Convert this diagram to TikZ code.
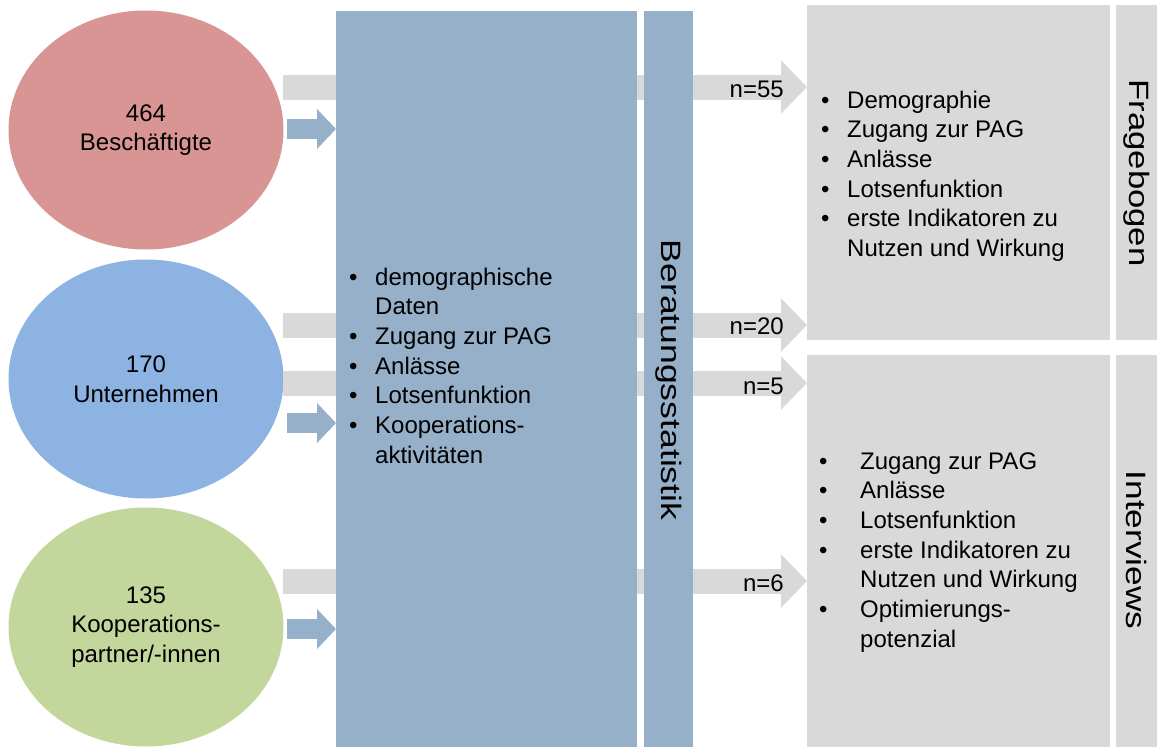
\documentclass[tikz,border=0pt]{standalone}
\usepackage{fontspec}
\setmainfont{Liberation Sans}
\usetikzlibrary{arrows.meta}
\usetikzlibrary{shapes.geometric}
\usetikzlibrary{positioning}

\definecolor{rosefill}{HTML}{D99594}
\definecolor{skyfill}{HTML}{8DB3E2}
\definecolor{leaffill}{HTML}{C3D69B}
\definecolor{statblue}{HTML}{96B0CA}
\definecolor{boxgray}{HTML}{D9D9D9}

\tikzset{
  group/.style={ellipse,minimum width=275pt,minimum height=239pt,inner sep=0pt,align=center},
  panel/.style={anchor=north west,inner sep=0pt},
  flowgray/.style={draw=boxgray,line width=25pt,-{Triangle[length=26pt,width=52pt]}},
  flowblue/.style={draw=statblue,line width=20pt,-{Triangle[length=19pt,width=39pt]}},
  nlabel/.style={anchor=east,inner sep=0pt,xshift=-23pt},
  sidetitle/.style={rotate=-90,inner sep=0pt,font=\fontsize{28}{30}\selectfont},
  bulletlist/.style={anchor=base west,inner sep=0pt}
}

\begin{document}
\begin{tikzpicture}[x=1pt,y=-1pt,font=\fontsize{24}{29.7}\selectfont]
\useasboundingbox (0,0) rectangle (1157,747);

% Zielgruppen
\node[group,fill=rosefill] (staff) at (146,130) {464\\Besch\"aftigte};
\node[group,fill=skyfill] (firms) at (146,379) {170\\Unternehmen};
\node[group,fill=leaffill] (coop) at (146,627) {135\\Kooperations-\\partner/-innen};

% Erhebungen rechts
\node[panel,fill=boxgray,minimum width=303pt,minimum height=335pt] (frage) at (807,5) {};
\node[panel,fill=boxgray,minimum width=41pt,minimum height=335pt] (fragetab) at (1116,5) {};
\node[panel,fill=boxgray,minimum width=303pt,minimum height=392pt] (inter) at (807,355) {};
\node[panel,fill=boxgray,minimum width=41pt,minimum height=392pt] (intertab) at (1116,355) {};

% graue Pfeile (hinter der Statistik)
\coordinate (g1) at (283,87);
\coordinate (g2) at (283,325);
\coordinate (g3) at (283,383);
\coordinate (g4) at (283,581);
\draw[flowgray] (g1) -- (g1 -| frage.west);
\draw[flowgray] (g2) -- (g2 -| frage.west);
\draw[flowgray] (g3) -- (g3 -| inter.west);
\draw[flowgray] (g4) -- (g4 -| inter.west);
\node[nlabel,yshift=-2pt] (n55) at (g1 -| frage.west) {n=55};
\node[nlabel,yshift=-1pt] (n20) at (g2 -| frage.west) {n=20};
\node[nlabel,yshift=-3pt] (n5) at (g3 -| inter.west) {n=5};
\node[nlabel,yshift=-2pt] (n6) at (g4 -| inter.west) {n=6};

% Beratungsstatistik
\node[panel,fill=statblue,minimum width=301pt,minimum height=736pt] (stat) at (336,11) {};
\node[panel,fill=statblue,minimum width=49pt,minimum height=736pt] (stattab) at (644,11) {};
\node[sidetitle] (stattitle) at (669,380) {\scalebox{1.27}[1]{Beratungsstatistik}};

% blaue Pfeile
\coordinate (b1) at (287,129);
\coordinate (b2) at (287,423);
\coordinate (b3) at (287,629);
\draw[flowblue] (b1) -- (b1 -| stat.west);
\draw[flowblue] (b2) -- (b2 -| stat.west);
\draw[flowblue] (b3) -- (b3 -| stat.west);

% Inhalte
\node[bulletlist] (statlist) at (349,285) {\begin{tabular}[t]{@{}l@{\hspace{17.6pt}}l@{}}
\textbullet & demographische\\
 & Daten\\
\textbullet & Zugang zur PAG\\
\textbullet & Anl\"asse\\
\textbullet & Lotsenfunktion\\
\textbullet & Kooperations-\\
 & aktivit\"aten
\end{tabular}};

\node[bulletlist] (fragelist) at (821,108) {\begin{tabular}[t]{@{}l@{\hspace{17.6pt}}l@{}}
\textbullet & Demographie\\
\textbullet & Zugang zur PAG\\
\textbullet & Anl\"asse\\
\textbullet & Lotsenfunktion\\
\textbullet & erste Indikatoren zu\\
 & Nutzen und Wirkung
\end{tabular}};

\node[bulletlist] (interlist) at (819,469) {\begin{tabular}[t]{@{}l@{\hspace{32.6pt}}l@{}}
\textbullet & Zugang zur PAG\\
\textbullet & Anl\"asse\\
\textbullet & Lotsenfunktion\\
\textbullet & erste Indikatoren zu\\
 & Nutzen und Wirkung\\
\textbullet & Optimierungs-\\
 & potenzial
\end{tabular}};

\node[sidetitle] (fragetitle) at (fragetab.center |- 0,173) {\scalebox{1.24}[1]{Fragebogen}};
\node[sidetitle] (intertitle) at (intertab.center |- 0,550) {\scalebox{1.26}[1]{Interviews}};

\end{tikzpicture}
\end{document}
